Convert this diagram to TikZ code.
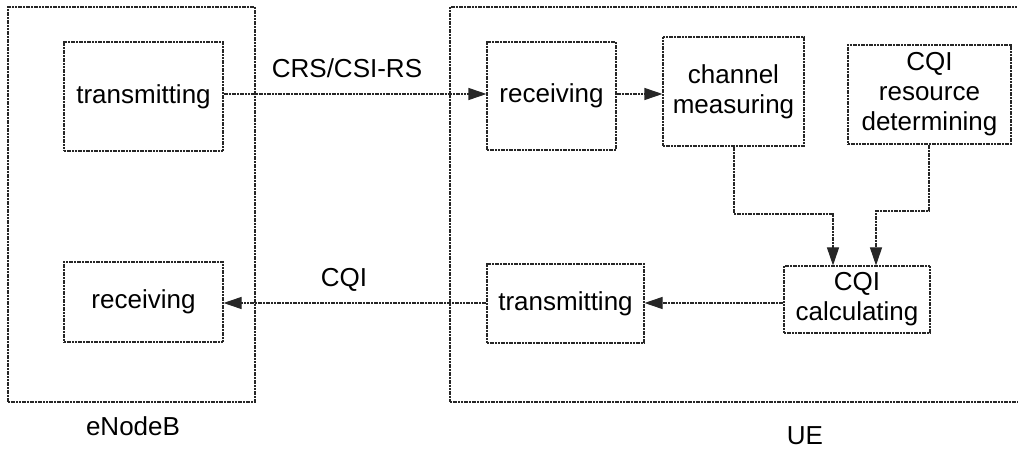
\documentclass[tikz,border=0pt]{standalone}
\usepackage{fontspec}
\setmainfont{Liberation Sans}
\usetikzlibrary{arrows.meta}
\begin{document}
\begin{tikzpicture}[x=1pt,y=-1pt,
  line/.style={draw=black!85, line width=1.1pt, dash pattern=on 2pt off 0.7pt},
  blk/.style={line, inner sep=0pt, align=center, font=\fontsize{26}{30}\selectfont},
  lbl/.style={inner sep=0pt, font=\fontsize{26}{30}\selectfont},
  arr/.style={line, -{Triangle[length=18pt,width=12pt]}}
]
\useasboundingbox (0,0) rectangle (1018,449);
\begin{scope}
\clip (0,0) rectangle (1018,449);
% outer boxes
\node[blk, minimum width=247pt, minimum height=395pt] (enb) at (131.5,204.5) {};
\node[blk, minimum width=580pt, minimum height=395pt] (ue) at (740,204.5) {};
% eNodeB blocks
\node[blk, minimum width=159pt, minimum height=109pt] (etx) at (143.5,96.5) {transmitting};
\node[blk, minimum width=159pt, minimum height=80pt] (erx) at (143.5,302) {receiving};
% UE blocks
\node[blk, minimum width=129pt, minimum height=108pt] (urx) at (551.5,96) {receiving};
\node[blk, minimum width=141pt, minimum height=109pt] (cm) at (733.5,91.5) {channel\\measuring};
\node[blk, minimum width=163pt, minimum height=99pt] (crd) at (929.5,94.5) {CQI\\resource\\determining};
\node[blk, minimum width=146pt, minimum height=67pt] (cc) at (857,299.5) {CQI\\calculating};
\node[blk, minimum width=157pt, minimum height=79pt] (utx) at (565.5,303.5) {transmitting};
% labels
\node[lbl] (l1) at (133,426) {eNodeB};
\node[lbl] (l2) at (805,436) {UE};
\node[lbl] (l3) at (347,68) {CRS/CSI-RS};
\node[lbl] (l4) at (344,280) {CQI};
% connectors
\coordinate (c1) at (734,214);
\coordinate (c2) at (833,214);
\coordinate (c3) at (929,211);
\coordinate (c4) at (876,211);
\draw[arr] (etx.east |- 0,94) -- (urx.west |- 0,94);
\draw[arr] (urx.east |- 0,94) -- (cm.west |- 0,94);
\draw[arr] (cm.south -| c1) -- (c1) -- (c2) -- (cc.north -| c2);
\draw[arr] (crd.south -| c3) -- (c3) -- (c4) -- (cc.north -| c4);
\draw[arr] (cc.west |- 0,303) -- (utx.east |- 0,303);
\draw[arr] (utx.west |- 0,303) -- (erx.east |- 0,303);
\end{scope}
\end{tikzpicture}
\end{document}
